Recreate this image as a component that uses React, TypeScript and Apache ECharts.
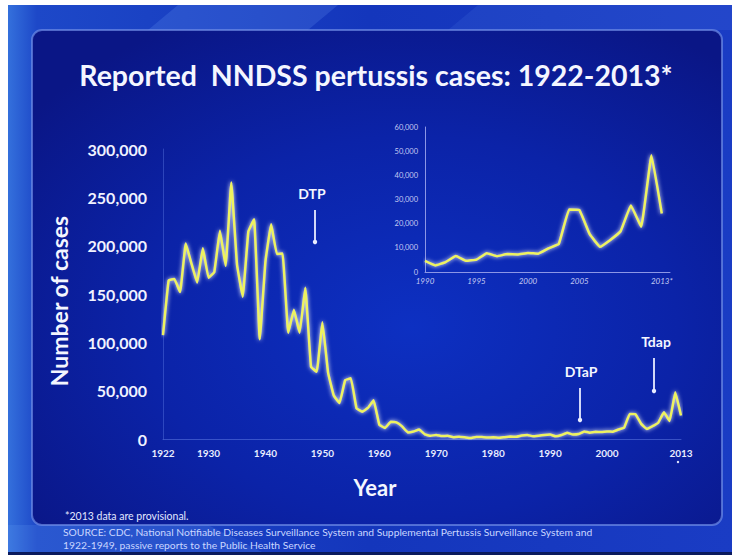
import React, { useEffect, useRef } from "react";
import * as echarts from "echarts";

const startYear = 1922;
const mainCases = [
  107473, 164191, 165418, 152003, 202210, 181411, 161799, 197371, 166914, 172559,
  215343, 179135, 265269, 180518, 147237, 214652, 227319, 103188, 183866, 222202,
  191383, 191890, 109873, 133792, 109860, 156517, 74715, 69479, 120718, 68687,
  45030, 37129, 60886, 62786, 31732, 28295, 32148, 40005, 14809, 11468,
  17749, 17135, 13005, 6799, 7717, 9718, 4810, 3285, 4249, 3036,
  3287, 1759, 2402, 1738, 1010, 2177, 2063, 1623, 1730, 1248,
  1895, 2463, 2276, 3589, 4195, 2823, 3450, 4157, 4570, 2719,
  4083, 6586, 4617, 5137, 7796, 6564, 7405, 7288, 7867, 7580,
  9771, 11647, 25827, 25616, 15632, 10454, 13278, 16858, 27550, 18719,
  48277, 24231,
];
const insetStartYear = 1990;
const insetCases = [
  4570, 2719, 4083, 6586, 4617, 5137, 7796, 6564, 7405, 7288, 7867, 7580,
  9771, 11647, 25827, 25616, 15632, 10454, 13278, 16858, 27550, 18719, 48277, 24231,
];
const mainXTicks = [1922, 1930, 1940, 1950, 1960, 1970, 1980, 1990, 2000, 2013];
const insetXTicks = [1990, 1995, 2000, 2005, 2013];

const titleText = "Reported  NNDSS pertussis cases: 1922-2013*";
const yTitle = "Number of cases";
const xTitle = "Year";
const footnote = "*2013 data are provisional.";
const source1 =
  "SOURCE: CDC, National Notifiable Diseases Surveillance System and Supplemental Pertussis Surveillance System and";
const source2 = "1922-1949, passive reports to the Public Health Service";

const fmt = (v: number) => Number(v).toLocaleString("en-US");

export default function App() {
  const ref = useRef<HTMLDivElement>(null);
  useEffect(() => {
    if (!ref.current) return;
    const chart = echarts.init(ref.current, null, { renderer: "svg" });
    const FONT = "Lato, 'Open Sans', sans-serif";
    const txt = (
      text: string,
      x: number,
      y: number,
      font: string,
      fill: string,
      align = "center",
      extra: any = {}
    ) => ({
      type: "text",
      x,
      y,
      z: 100,
      ...extra,
      style: {
        text,
        font,
        fill,
        align,
        verticalAlign: "middle",
        textAlign: align,
        textVerticalAlign: "middle",
      },
    });
    const arrow = (x: number, y1: number, y2: number) => [
      {
        type: "line",
        z: 100,
        shape: { x1: x, y1, x2: x, y2 },
        style: { stroke: "#e8ecff", lineWidth: 1.8 },
      },
      {
        type: "circle",
        z: 100,
        shape: { cx: x, cy: y2, r: 2.2 },
        style: { fill: "#e8ecff" },
      },
    ];
    const lineStyle = {
      color: "#eef25e",
      width: 2.5,
      shadowColor: "rgba(255,255,255,0.95)",
      shadowBlur: 4,
    };
    chart.setOption({
      animation: false,
      graphic: [
        {
          type: "rect",
          z: -10,
          shape: { x: 0, y: 0, width: 724, height: 550 },
          style: {
            fill: new echarts.graphic.LinearGradient(0, 0, 1, 0, [
              { offset: 0, color: "#3470dc" },
              { offset: 0.04, color: "#1d48c8" },
              { offset: 0.5, color: "#1436bc" },
              { offset: 1, color: "#1a3cc4" },
            ]),
          },
        },
        {
          type: "polygon",
          z: -9,
          shape: { points: [[170, 0], [330, 0], [300, 25], [140, 25]] },
          style: { fill: "rgba(120,170,255,0.18)" },
        },
        {
          type: "polygon",
          z: -9,
          shape: { points: [[470, 0], [724, 0], [724, 25], [440, 25]] },
          style: { fill: "rgba(120,170,255,0.10)" },
        },
        {
          type: "polygon",
          z: -9,
          shape: { points: [[0, 520], [200, 520], [260, 550], [0, 550]] },
          style: { fill: "rgba(120,180,255,0.15)" },
        },
        {
          type: "rect",
          z: -8,
          shape: { x: 24, y: 25, width: 690, height: 495, r: 10 },
          style: {
            fill: new echarts.graphic.RadialGradient(0.55, 0.6, 0.7, [
              { offset: 0, color: "#0d30c2" },
              { offset: 0.55, color: "#0b23a8" },
              { offset: 1, color: "#0a1686" },
            ]),
            stroke: "rgba(110,140,230,0.7)",
            lineWidth: 2,
          },
        },
        {
          type: "rect",
          z: -7,
          shape: { x: 0, y: 547, width: 724, height: 3 },
          style: { fill: "#0a1a5c" },
        },
        txt(titleText, 368, 70, `bold 28.5px ${FONT}`, "#f4f6ff"),
        txt(yTitle, 51, 296, `bold 23px ${FONT}`, "#f4f6ff", "center", {
          rotation: Math.PI / 2,
        }),
        txt(xTitle, 367, 482, `bold 22px ${FONT}`, "#f4f6ff"),
        txt("DTP", 304, 188, `bold 14px ${FONT}`, "#f4f6ff"),
        ...arrow(307, 205, 237),
        txt("DTaP", 573, 366, `bold 14px ${FONT}`, "#f4f6ff"),
        ...arrow(572, 383, 415),
        txt("Tdap", 648, 336, `bold 14px ${FONT}`, "#f4f6ff"),
        ...arrow(646, 353, 386),
        {
          type: "circle",
          z: 100,
          shape: { cx: 670, cy: 457, r: 1.2 },
          style: { fill: "#e8ecff" },
        },
        txt(footnote, 57, 511, `10.5px ${FONT}`, "#e2e8ff", "left"),
        txt(source1, 55, 527, `10.3px ${FONT}`, "#c9d6ff", "left"),
        txt(source2, 55, 539.5, `10.3px ${FONT}`, "#c9d6ff", "left"),
      ],
      grid: [
        { left: 155, right: 51, top: 144, bottom: 116 },
        { left: 417, right: 62, top: 122, bottom: 283 },
      ],
      xAxis: [
        {
          type: "value",
          gridIndex: 0,
          min: 1922,
          max: 2013,
          axisLine: { show: true, lineStyle: { color: "rgba(110,140,240,0.45)" } },
          axisTick: { show: false },
          splitLine: { show: false },
          axisLabel: {
            customValues: mainXTicks,
            color: "#e8ecff",
            fontWeight: "bold",
            fontSize: 10,
            fontFamily: FONT,
            margin: 9,
            formatter: (v: number) => String(v),
          },
        },
        {
          type: "value",
          gridIndex: 1,
          min: 1990,
          max: 2013.8,
          axisLine: { show: true, lineStyle: { color: "#8c96e6" } },
          axisTick: { show: false },
          splitLine: { show: false },
          axisLabel: {
            customValues: insetXTicks,
            color: "#c4caf2",
            fontStyle: "italic",
            fontSize: 8,
            fontFamily: FONT,
            margin: 5,
            formatter: (v: number) => (v === 2013 ? "2013*" : String(v)),
          },
        },
      ],
      yAxis: [
        {
          type: "value",
          gridIndex: 0,
          min: 0,
          max: 300000,
          interval: 50000,
          axisLine: { show: true, lineStyle: { color: "rgba(110,140,240,0.35)" } },
          axisTick: { show: false },
          splitLine: { show: false },
          axisLabel: {
            color: "#f0f2ff",
            fontWeight: "bold",
            fontSize: 16,
            fontFamily: FONT,
            margin: 16,
            formatter: fmt,
          },
        },
        {
          type: "value",
          gridIndex: 1,
          min: 0,
          max: 60000,
          interval: 10000,
          axisLine: { show: true, lineStyle: { color: "#8c96e6" } },
          axisTick: { show: false },
          splitLine: { show: false },
          axisLabel: {
            color: "#c4caf2",
            fontSize: 7.5,
            fontFamily: FONT,
            margin: 7,
            formatter: fmt,
          },
        },
      ],
      series: [
        {
          type: "line",
          xAxisIndex: 0,
          yAxisIndex: 0,
          symbol: "none",
          smooth: 0.08,
          lineStyle,
          data: mainCases.map((v, i) => [startYear + i, v]),
        },
        {
          type: "line",
          xAxisIndex: 1,
          yAxisIndex: 1,
          symbol: "none",
          smooth: 0.08,
          lineStyle,
          data: insetCases.map((v, i) => [insetStartYear + i, v]),
        },
      ],
    });
    return () => chart.dispose();
  }, []);
  return (
    <div
      ref={ref}
      style={{ position: "absolute", left: 8, top: 5, width: 724, height: 550 }}
    />
  );
}
